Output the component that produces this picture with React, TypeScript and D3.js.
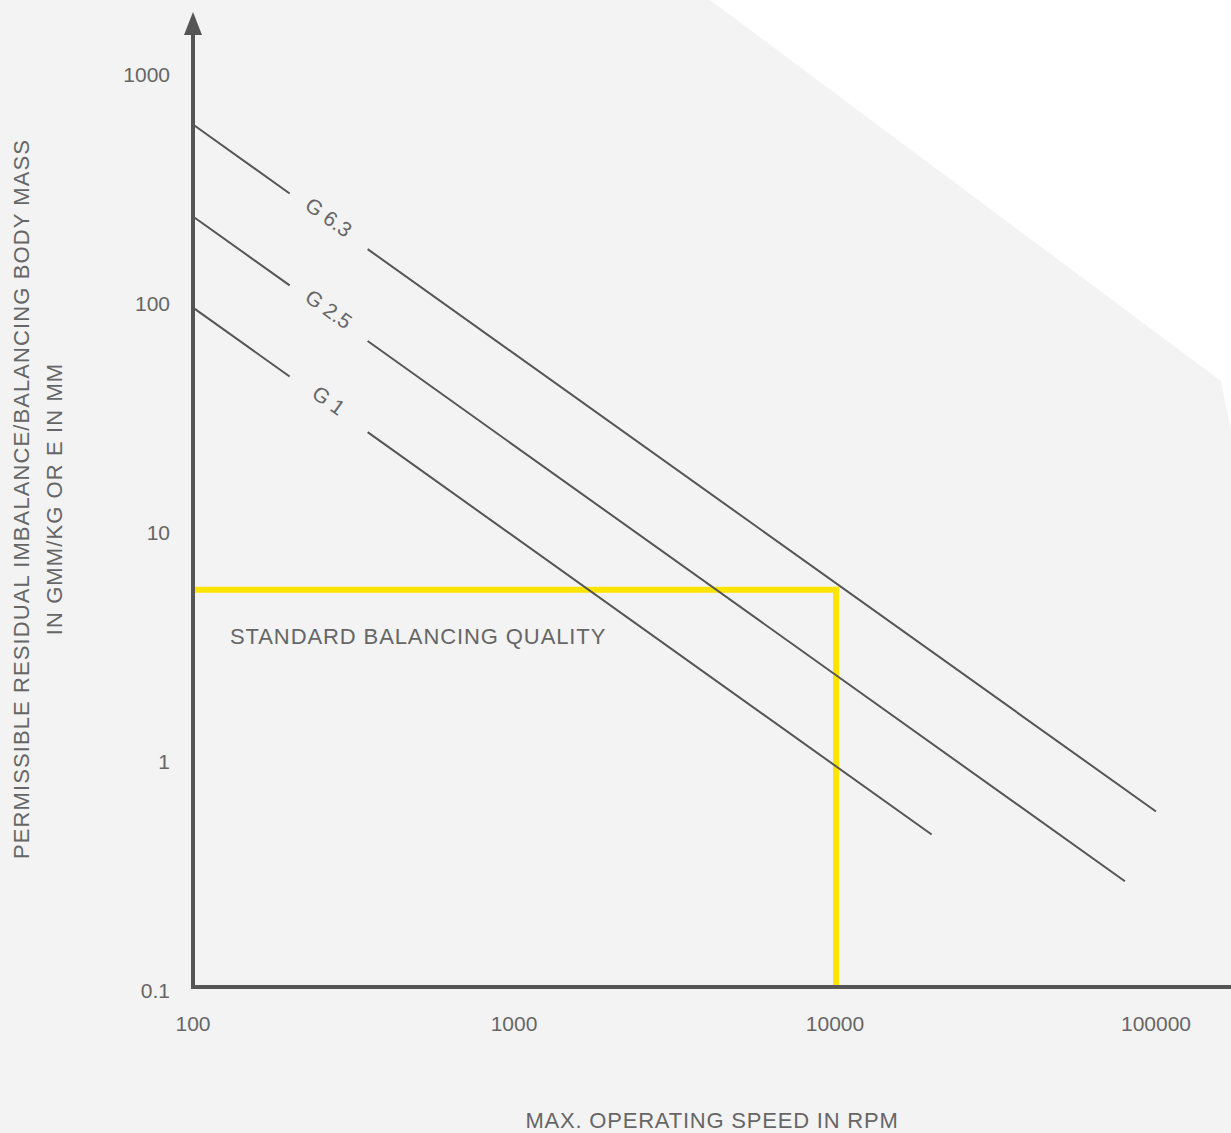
import React from "react";
import * as d3 from "d3";

const W = 1231;
const H = 1133;

const xTicks = [100, 1000, 10000, 100000];
const yTicks = [1000, 100, 10, 1, 0.1];
const yTickLabels = ["1000", "100", "10", "1", "0.1"];
const xTickLabels = ["100", "1000", "10000", "100000"];

// balancing grades: G value, end speed
const grades = ["G 6.3", "G 2.5", "G 1"];
const gradeValues = [6.3, 2.5, 1];
const gradeEndSpeed = [100000, 80000, 20000];
const gapStart = 200;
const gapEnd = 350;

const standardSpeed = 10000;
const standardValue = 5.6;

const FONT = "'Liberation Sans', Arial, Helvetica, sans-serif";
const TEXT = "#666";
const LINE = "#555";
const YELLOW = "#ffe400";

export default function App() {
  const x = d3.scaleLog().domain([100, 100000]).range([193, 1156]);
  const y = d3.scaleLog().domain([0.1, 1000]).range([990, 74]);
  const ecc = (g: number, n: number) => (g * 9549) / n;
  const slopeAngle =
    (Math.atan2(y(ecc(1, 1000)) - y(ecc(1, 100)), x(1000) - x(100)) * 180) /
    Math.PI;
  const axisX = x(100);
  const axisY = 987;

  return (
    <svg
      width={W}
      height={H}
      style={{ position: "absolute", left: 0, top: 0, display: "block" }}
      fontFamily={FONT}
    >
      <rect x={0} y={0} width={W} height={H} fill="#fff" />
      <polygon
        points={`0,0 710,0 1221,381 1245,500 1245,${H} 0,${H}`}
        fill="#f3f3f3"
      />
      {/* yellow standard quality */}
      <path
        d={`M${axisX},${y(standardValue)}H${x(standardSpeed) + 1}V${axisY}`}
        fill="none"
        stroke={YELLOW}
        strokeWidth={6}
      />
      {/* grade lines */}
      {gradeValues.map((g, i) => {
        const seg = (a: number, b: number) =>
          d3.line<number>().x((n) => x(n)).y((n) => y(ecc(g, n)))([a, b]) || "";
        const mid = Math.sqrt(gapStart * gapEnd);
        const cx = x(mid);
        const cy = y(ecc(g, mid)) - 4;
        return (
          <g key={grades[i]}>
            <path d={seg(100, gapStart)} stroke={LINE} strokeWidth={2} fill="none" />
            <path d={seg(gapEnd, gradeEndSpeed[i])} stroke={LINE} strokeWidth={2} fill="none" />
            <text
              x={cx}
              y={cy}
              dy="0.35em"
              textAnchor="middle"
              fontSize={21}
              fill={TEXT}
              transform={`rotate(${slopeAngle},${cx},${cy})`}
            >
              {grades[i]}
            </text>
          </g>
        );
      })}
      {/* axes */}
      <line x1={axisX} y1={axisY} x2={W} y2={axisY} stroke={LINE} strokeWidth={4} />
      <line x1={axisX} y1={axisY + 2} x2={axisX} y2={30} stroke={LINE} strokeWidth={4} />
      <polygon
        points={`${axisX - 9},35 ${axisX},12 ${axisX + 9},35`}
        fill={LINE}
      />
      {/* ticks labels */}
      {yTicks.map((t, i) => (
        <text
          key={"y" + i}
          x={170}
          y={y(t) + 7.5}
          textAnchor="end"
          fontSize={21}
          fill={TEXT}
        >
          {yTickLabels[i]}
        </text>
      ))}
      {xTicks.map((t, i) => (
        <text
          key={"x" + i}
          x={x(t)}
          y={1031}
          textAnchor="middle"
          fontSize={21}
          fill={TEXT}
        >
          {xTickLabels[i]}
        </text>
      ))}
      <text x={230} y={644} fontSize={22} letterSpacing={0.9} fill={TEXT}>
        STANDARD BALANCING QUALITY
      </text>
      <text x={712} y={1128} textAnchor="middle" fontSize={22} letterSpacing={0.8} fill={TEXT}>
        MAX. OPERATING SPEED IN RPM
      </text>
      <text
        transform="translate(29,499) rotate(-90)"
        textAnchor="middle"
        fontSize={22}
        letterSpacing={1.1}
        fill={TEXT}
      >
        <tspan x={0} y={0}>PERMISSIBLE RESIDUAL IMBALANCE/BALANCING BODY MASS</tspan>
        <tspan x={0} y={33}>IN GMM/KG OR E IN MM</tspan>
      </text>
    </svg>
  );
}
